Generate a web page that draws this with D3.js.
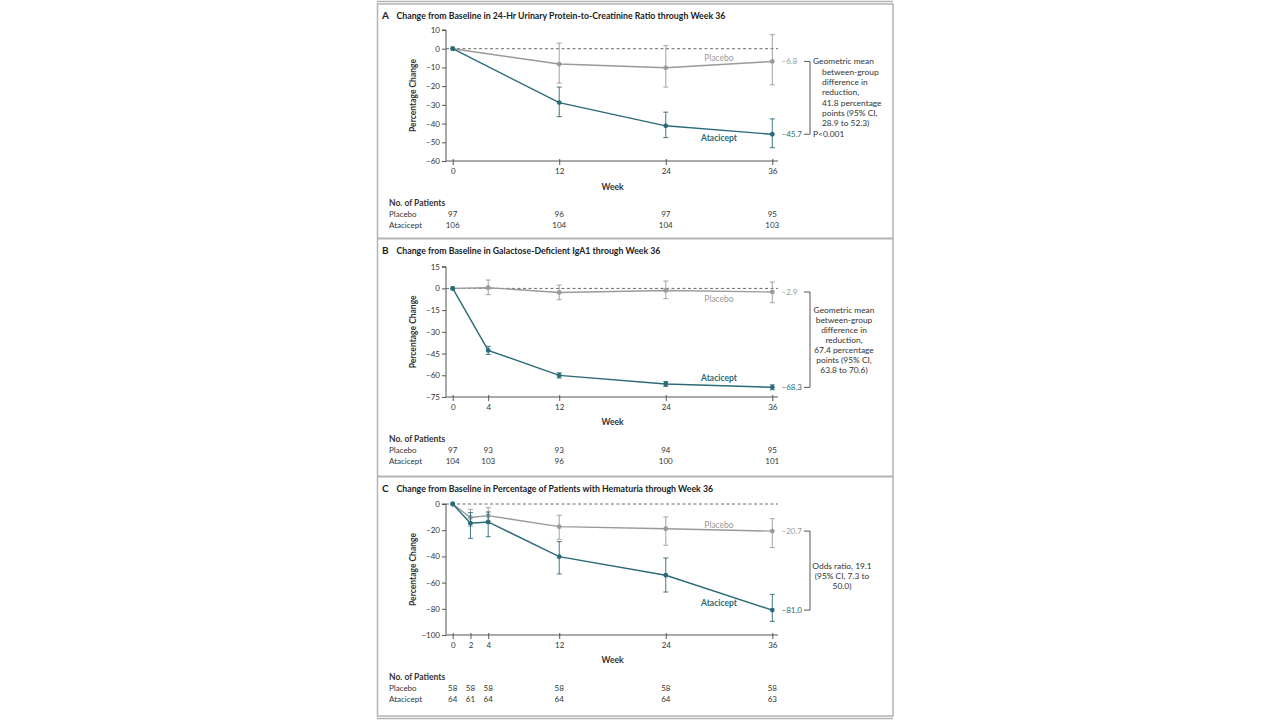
<!DOCTYPE html>
<html><head><meta charset="utf-8">
<script src="https://cdn.jsdelivr.net/npm/d3@7"></script>
<style>
html,body{margin:0;padding:0;background:#fff;}
svg{display:block;font-family:Lato,"Open Sans",sans-serif;}
</style></head><body>
<svg id="chart" width="1280" height="720"></svg>
<script>
// ---------- DATA ----------
// Panel A: UPCR
const weeksA = [0, 12, 24, 36];
const placeboA = [0, -8.2, -10.2, -6.8];
const placeboA_hi = [0, 3.0, 1.6, 7.5];
const placeboA_lo = [0, -18.4, -20.5, -19.3];
const ataciceptA = [0, -28.8, -41.2, -45.7];
const ataciceptA_hi = [0, -20.5, -33.9, -37.5];
const ataciceptA_lo = [0, -36.3, -47.5, -52.9];
const yTicksA = [10, 0, -10, -20, -30, -40, -50, -60];
const nPlaceboA = [97, 96, 97, 95];
const nAtaciceptA = [106, 104, 104, 103];
const titleA = "Change from Baseline in 24-Hr Urinary Protein-to-Creatinine Ratio through Week 36";
const noteA = ["Geometric mean", "between-group", "difference in", "reduction,", "41.8 percentage", "points (95% CI,", "28.9 to 52.3)"];
const endLabelsA = ["\u22126.8", "\u221245.7"];

// Panel B: Gd-IgA1
const weeksB = [0, 4, 12, 24, 36];
const placeboB = [0, 0.5, -2.8, -1.4, -2.5];
const placeboB_hi = [0, 5.8, 2.3, 5.1, 4.4];
const placeboB_lo = [0, -4.3, -7.8, -7.1, -9.9];
const ataciceptB = [0, -42.8, -60.1, -66.0, -68.3];
const ataciceptB_hi = [0, -40.0, -58.3, -64.3, -66.6];
const ataciceptB_lo = [0, -45.6, -61.9, -67.7, -70.0];
const yTicksB = [15, 0, -15, -30, -45, -60, -75];
const nPlaceboB = [97, 93, 93, 94, 95];
const nAtaciceptB = [104, 103, 96, 100, 101];
const titleB = "Change from Baseline in Galactose-Deficient IgA1 through Week 36";
const noteB = ["Geometric mean", "between-group", "difference in", "reduction,", "67.4 percentage", "points (95% CI,", "63.8 to 70.6)"];
const endLabelsB = ["\u22122.9", "\u221268.3"];

// Panel C: Hematuria
const weeksC = [0, 2, 4, 12, 24, 36];
const placeboC = [0, -10.3, -8.9, -17.3, -18.9, -20.7];
const placeboC_hi = [0, -4.1, -2.8, -8.6, -9.9, -11.2];
const placeboC_lo = [0, -17.0, -15.0, -27.0, -31.5, -33.3];
const ataciceptC = [0, -14.7, -13.7, -40.2, -54.4, -81.0];
const ataciceptC_hi = [0, -6.6, -6.1, -28.7, -41.2, -69.0];
const ataciceptC_lo = [0, -26.2, -25.0, -53.4, -67.2, -89.6];
const yTicksC = [0, -20, -40, -60, -80, -100];
const nPlaceboC = [58, 58, 58, 58, 58, 58];
const nAtaciceptC = [64, 61, 64, 64, 64, 63];
const titleC = "Change from Baseline in Percentage of Patients with Hematuria through Week 36";
const noteC = ["Odds ratio, 19.1", "(95% CI, 7.3 to", "50.0)"];
const endLabelsC = ["\u221220.7", "\u221281.0"];

// ---------- DRAW ----------
const svg = d3.select("#chart");
const TEAL = "#2b6a78", GRAY = "#9a9a9a", TXT = "#333", BORDER = "#b4b4b4";
const xLeft = 452.7, xRight = 772.3, yAxisX = 446, axisEnd = 778;

// frame
svg.append("line").attr("x1",377).attr("x2",893).attr("y1",1.5).attr("y2",1.5).attr("stroke",BORDER).attr("stroke-width",1.5);
svg.append("rect").attr("x",377.5).attr("y",4).attr("width",515.5).attr("height",712).attr("fill","none").attr("stroke",BORDER).attr("stroke-width",1.5);
svg.append("line").attr("x1",377).attr("x2",893).attr("y1",718.5).attr("y2",718.5).attr("stroke",BORDER).attr("stroke-width",1.5);
[238.5, 476.5].forEach(y => svg.append("line").attr("x1",377).attr("x2",893).attr("y1",y).attr("y2",y).attr("stroke",BORDER).attr("stroke-width",2));

function panel(cfg) {
  const g = svg.append("g");
  const x = d3.scaleLinear().domain([0, 36]).range([xLeft, xRight]);
  const y = d3.scaleLinear().domain(cfg.yDomain).range(cfg.yRange);
  // title
  g.append("text").attr("x",382).attr("y",cfg.titleY).attr("font-size",10).attr("font-weight","bold").attr("fill","#222").text(cfg.letter);
  g.append("text").attr("x",396.5).attr("y",cfg.titleY).attr("font-size",8.75).attr("font-weight","bold").attr("fill","#222").text(cfg.title);
  // y axis
  const ya = d3.axisLeft(y).tickValues(cfg.yTicks).tickSize(4).tickPadding(2).tickFormat(d => d < 0 ? "\u2212" + Math.abs(d) : d);
  const yg = g.append("g").attr("transform",`translate(${yAxisX},0)`).call(ya);
  yg.select(".domain").attr("stroke","#555").attr("d",`M-4,${y(cfg.yDomain[1])}H0V${y(cfg.yDomain[0])}`);
  yg.selectAll(".tick line").attr("stroke","#555");
  yg.selectAll("text").attr("font-size",8).attr("fill",TXT).attr("font-family","Lato,sans-serif");
  // x axis
  const xa = d3.axisBottom(x).tickValues(cfg.weeks).tickSize(4).tickPadding(3);
  const xg = g.append("g").attr("transform",`translate(0,${y(cfg.yDomain[0])})`).call(xa);
  xg.select(".domain").attr("stroke","#555").attr("d",`M${yAxisX},0H${axisEnd}`);
  xg.selectAll(".tick line").attr("stroke","#555").attr("y1",-2);
  xg.selectAll("text").attr("font-size",8).attr("fill",TXT).attr("font-family","Lato,sans-serif");
  // axis titles
  g.append("text").attr("transform",`translate(416,${(y(cfg.yDomain[0])+y(cfg.yDomain[1]))/2}) rotate(-90)`)
    .attr("text-anchor","middle").attr("font-size",8.5).attr("font-weight","bold").attr("fill",TXT).text("Percentage Change");
  g.append("text").attr("x",(xLeft+xRight)/2).attr("y",cfg.weekY).attr("text-anchor","middle").attr("font-size",8.5).attr("font-weight","bold").attr("fill",TXT).text("Week");
  // zero dashed line
  g.append("line").attr("x1",yAxisX).attr("x2",axisEnd).attr("y1",y(0)).attr("y2",y(0)).attr("stroke","#444").attr("stroke-width",0.8).attr("stroke-dasharray","3,2.5");
  // series
  const series = [
    {vals: cfg.placebo, hi: cfg.placeboHi, lo: cfg.placeboLo, color: GRAY},
    {vals: cfg.atacicept, hi: cfg.ataciceptHi, lo: cfg.ataciceptLo, color: TEAL}
  ];
  series.forEach(s => {
    const pts = cfg.weeks.map((w, i) => ({w, v: s.vals[i], hi: s.hi[i], lo: s.lo[i]}));
    const eb = pts.filter(p => p.w > 0);
    g.selectAll(null).data(eb).enter().append("line")
      .attr("x1",d=>x(d.w)).attr("x2",d=>x(d.w)).attr("y1",d=>y(d.hi)).attr("y2",d=>y(d.lo))
      .attr("stroke",s.color).attr("stroke-width",0.9);
    [ "hi", "lo" ].forEach(k => g.selectAll(null).data(eb).enter().append("line")
      .attr("x1",d=>x(d.w)-2.5).attr("x2",d=>x(d.w)+2.5).attr("y1",d=>y(d[k])).attr("y2",d=>y(d[k]))
      .attr("stroke",s.color).attr("stroke-width",0.9));
    g.append("path").datum(pts).attr("fill","none").attr("stroke",s.color).attr("stroke-width",1.4)
      .attr("d", d3.line().x(d=>x(d.w)).y(d=>y(d.v)));
    g.selectAll(null).data(pts).enter().append("circle")
      .attr("cx",d=>x(d.w)).attr("cy",d=>y(d.v)).attr("r",2.4).attr("fill",d => d.w===0 ? TEAL : s.color);
  });
  // series labels
  g.append("text").attr("x",719).attr("y",cfg.placeboLabelY).attr("text-anchor","middle").attr("font-size",8.5).attr("fill",GRAY).text("Placebo");
  g.append("text").attr("x",719).attr("y",cfg.ataciceptLabelY).attr("text-anchor","middle").attr("font-size",8.5).attr("font-weight","bold").attr("fill",TEAL).text("Atacicept");
  // end labels + bracket
  const yP = y(cfg.placebo[cfg.placebo.length-1]), yA = y(cfg.atacicept[cfg.atacicept.length-1]);
  g.append("text").attr("x",781.5).attr("y",yP+3).attr("font-size",8).attr("fill",GRAY).text(cfg.endLabels[0]);
  g.append("text").attr("x",781.5).attr("y",yA+3).attr("font-size",8).attr("fill",TEAL).text(cfg.endLabels[1]);
  g.append("path").attr("fill","none").attr("stroke","#444").attr("stroke-width",0.9)
    .attr("d",`M804,${yP}H810V${yA}H804`);
  // note
  if (cfg.noteAlign === "left") {
    cfg.note.forEach((t, i) => g.append("text").attr("x", i===0 ? 813 : 822).attr("y", yP + 3 + i*10.3)
      .attr("font-size",8.4).attr("fill",TXT).text(t));
    g.append("text").attr("x",813).attr("y",yA+3).attr("font-size",8.4).attr("fill",TXT).text("P<0.001");
  } else {
    cfg.note.forEach((t, i) => g.append("text").attr("x", cfg.noteX).attr("y", cfg.noteY + i*cfg.noteStep)
      .attr("text-anchor","middle").attr("font-size",8.4).attr("fill",TXT).text(t));
  }
  // patients table
  g.append("text").attr("x",389).attr("y",cfg.tableY).attr("font-size",8.5).attr("font-weight","bold").attr("fill",TXT).text("No. of Patients");
  g.append("text").attr("x",389).attr("y",cfg.tableY+11).attr("font-size",8).attr("fill",TXT).text("Placebo");
  g.append("text").attr("x",389).attr("y",cfg.tableY+21.5).attr("font-size",8).attr("fill",TXT).text("Atacicept");
  g.selectAll(null).data(cfg.weeks).enter().append("text").attr("x",d=>x(d)).attr("y",cfg.tableY+11)
    .attr("text-anchor","middle").attr("font-size",8).attr("fill",TXT).text((d,i)=>cfg.nPlacebo[i]);
  g.selectAll(null).data(cfg.weeks).enter().append("text").attr("x",d=>x(d)).attr("y",cfg.tableY+21.5)
    .attr("text-anchor","middle").attr("font-size",8).attr("fill",TXT).text((d,i)=>cfg.nAtacicept[i]);
}

panel({letter:"A", title:titleA, titleY:19, yDomain:[-60,10], yRange:[161,30], yTicks:yTicksA, weeks:weeksA,
  placebo:placeboA, placeboHi:placeboA_hi, placeboLo:placeboA_lo,
  atacicept:ataciceptA, ataciceptHi:ataciceptA_hi, ataciceptLo:ataciceptA_lo,
  placeboLabelY:61, ataciceptLabelY:140.5, endLabels:endLabelsA, note:noteA, noteAlign:"left",
  weekY:190, tableY:206, nPlacebo:nPlaceboA, nAtacicept:nAtaciceptA});

panel({letter:"B", title:titleB, titleY:253.5, yDomain:[-75,15], yRange:[397,266.7], yTicks:yTicksB, weeks:weeksB,
  placebo:placeboB, placeboHi:placeboB_hi, placeboLo:placeboB_lo,
  atacicept:ataciceptB, ataciceptHi:ataciceptB_hi, ataciceptLo:ataciceptB_lo,
  placeboLabelY:301.5, ataciceptLabelY:381, endLabels:endLabelsB, note:noteB, noteAlign:"center",
  noteX:844, noteY:312.5, noteStep:10.1,
  weekY:425, tableY:442, nPlacebo:nPlaceboB, nAtacicept:nAtaciceptB});

panel({letter:"C", title:titleC, titleY:491.5, yDomain:[-100,0], yRange:[635,504], yTicks:yTicksC, weeks:weeksC,
  placebo:placeboC, placeboHi:placeboC_hi, placeboLo:placeboC_lo,
  atacicept:ataciceptC, ataciceptHi:ataciceptC_hi, ataciceptLo:ataciceptC_lo,
  placeboLabelY:527.5, ataciceptLabelY:606, endLabels:endLabelsC, note:noteC, noteAlign:"center",
  noteX:842, noteY:569, noteStep:10.2,
  weekY:663, tableY:680, nPlacebo:nPlaceboC, nAtacicept:nAtaciceptC});
</script>
</body></html>
